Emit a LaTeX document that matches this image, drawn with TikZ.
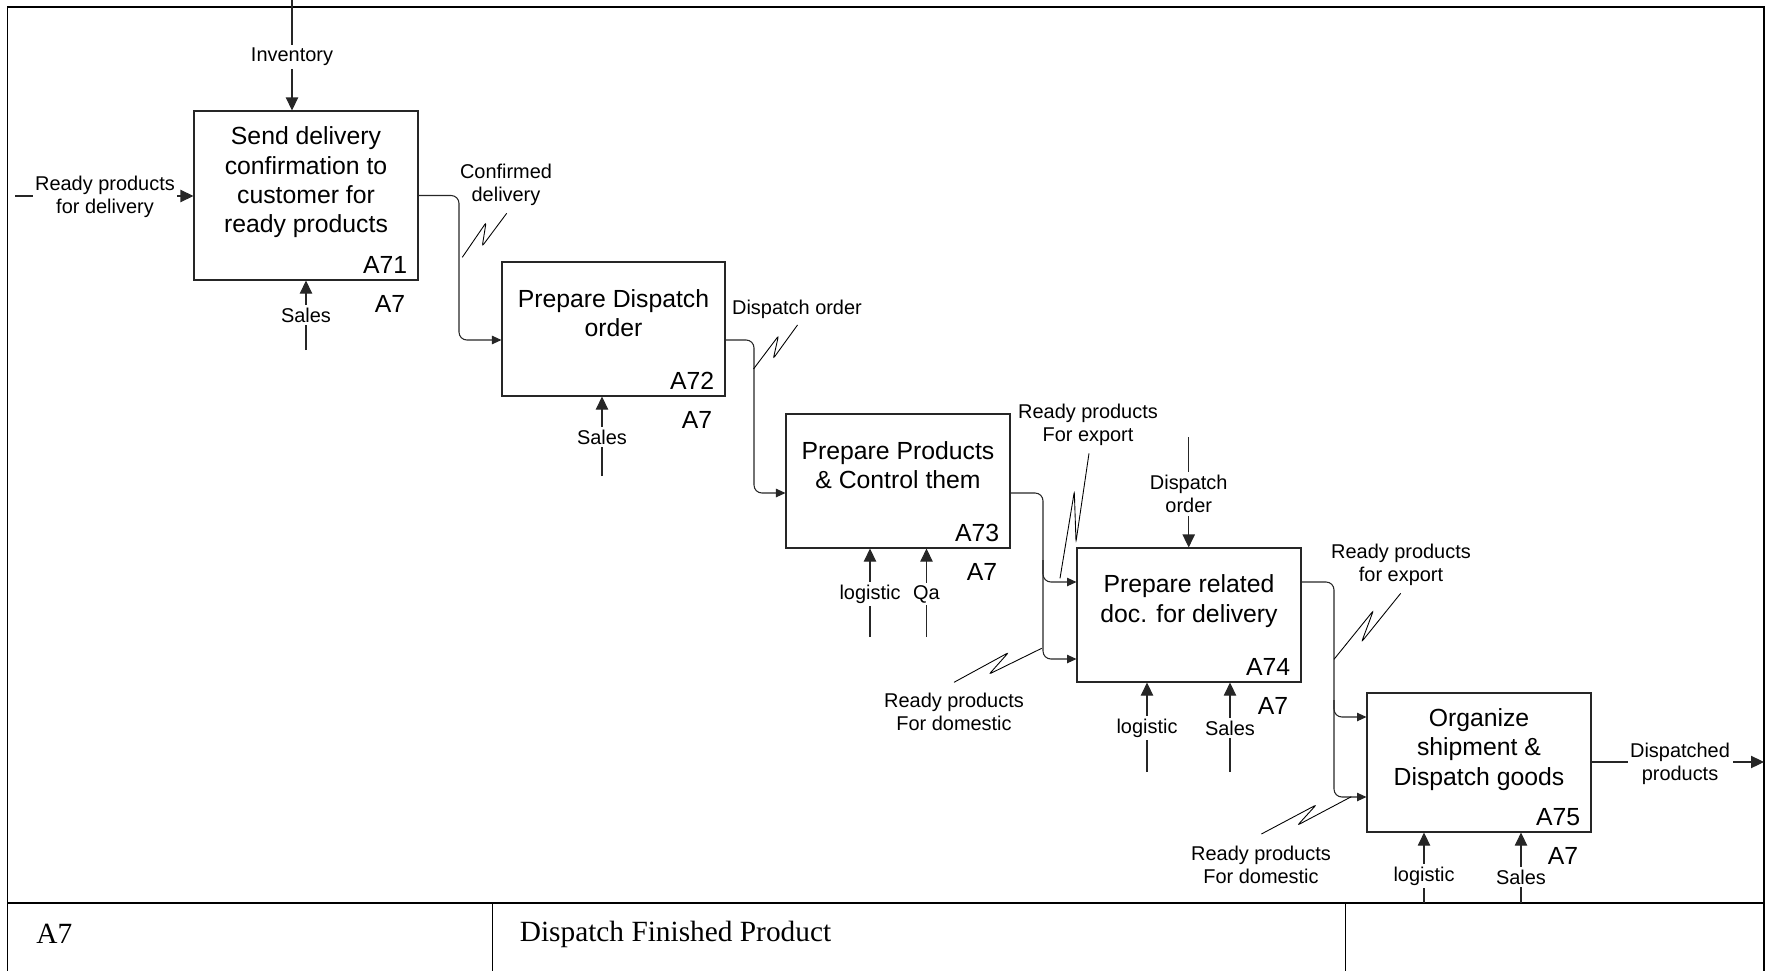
\documentclass[tikz,border=0pt]{standalone}
\usepackage{fontspec}
\setmainfont{Liberation Sans}
\newfontfamily\titlefont{Liberation Serif}
\usetikzlibrary{arrows.meta,fit,calc}
\begin{document}
\begin{tikzpicture}[x=0.02cm,y=-0.02cm,
  box/.style={draw=black!85,line width=0.6pt,inner sep=0pt},
  boxtext/.style={align=center,font=\fontsize{14.1}{16.7}\selectfont,inner sep=0pt},
  boxnum/.style={anchor=base east,font=\fontsize{14.1}{16.7}\selectfont,inner sep=0pt},
  lbl/.style={align=center,font=\fontsize{11.35}{13.3}\selectfont,fill=white,inner sep=1.5pt,yshift=-0.04cm},
  lblplain/.style={align=center,font=\fontsize{11.35}{13.3}\selectfont,inner sep=1pt,yshift=-0.04cm},
  wire/.style={line width=0.6pt,draw=black!85},
  bigarrow/.style={wire,-{Triangle[length=7.4pt,width=7pt]}},
  flow/.style={wire,rounded corners=4.5pt,-{Triangle[length=5.4pt,width=4.8pt]}},
  squig/.style={line width=0.5pt,rounded corners=1.2pt},
  frame/.style={line width=1.1pt},
  foot/.style={anchor=west,inner sep=0pt,font=\titlefont\fontsize{16.7}{20}\selectfont}]

\useasboundingbox (0,0) rectangle (1767,970);

% drawing frame and title block
\draw[frame] (7.5,7) rectangle (1764,990);
\draw[line width=1.5pt] (7.5,903) -- (1764,903);
\draw[frame] (492.5,903) -- (492.5,990);
\draw[frame] (1345.5,903) -- (1345.5,990);
\node[foot] (fnum) at (36,934) {A7};
\node[foot] (ftitle) at (519.5,934) {Dispatch Finished Product};

% activity boxes
\node[box,fit={(194,111) (418,280)}] (a71) {};
\node[box,fit={(502,262) (725,396)}] (a72) {};
\node[box,fit={(786,414) (1010,548)}] (a73) {};
\node[box,fit={(1077,548) (1301,682)}] (a74) {};
\node[box,fit={(1367,693) (1591,832)}] (a75) {};

\node[boxtext] (t71) at ($(a71.center)+(0,-13)$) {Send delivery\\confirmation to\\customer for\\ready products};
\node[boxtext] (t72) at ($(a72.center)+(0,-16)$) {Prepare Dispatch\\order};
\node[boxtext] (t73) at ($(a73.center)+(0,-16)$) {Prepare Products\\\& Control them};
\node[boxtext] (t74) at ($(a74.center)+(0,-14)$) {Prepare related\\doc. for delivery};
\node[boxtext] (t75) at ($(a75.center)+(0,-13)$) {Organize\\shipment \&\\Dispatch goods};

\foreach \b/\n in {a71/A71,a72/A72,a73/A73,a74/A74,a75/A75}{
  \node[boxnum] (\b num) at ($(\b.south east)+(-11,-7)$) {\n};
  \node[boxnum] (\b par) at ($(\b.south east)+(-13,32)$) {A7};
}

% free ends of boundary arrows
\coordinate (inL) at (15,196);
\coordinate (invS) at (292,0);
\coordinate (m1) at (306,350);
\coordinate (m2) at (602,476);
\coordinate (m3a) at (870,637);
\coordinate (m3b) at (926.5,637);
\coordinate (c4) at (1188.7,437);
\coordinate (m4a) at (1147,772);
\coordinate (m4b) at (1230,772);
\coordinate (m5a) at (1424,903);
\coordinate (m5b) at (1521,903);
\coordinate (outE) at (1764,762);

% inputs, controls, mechanisms
\draw[bigarrow] (inL) -- (inL -| a71.west);
\draw[bigarrow] (invS) -- (invS |- a71.north);
\draw[bigarrow] (m1) -- (m1 |- a71.south);
\draw[bigarrow] (m2) -- (m2 |- a72.south);
\draw[bigarrow] (m3a) -- (m3a |- a73.south);
\draw[bigarrow] (m3b) -- (m3b |- a73.south);
\draw[bigarrow] (c4) -- (c4 |- a74.north);
\draw[bigarrow] (m4a) -- (m4a |- a74.south);
\draw[bigarrow] (m4b) -- (m4b |- a74.south);
\draw[bigarrow] (m5a) -- (m5a |- a75.south);
\draw[bigarrow] (m5b) -- (m5b |- a75.south);
\draw[bigarrow] (a75.east |- 0,762) -- (outE);

% flows between activities
\draw[flow] (a71.east) -- (459,195.5) -- (459,340) -- (a72.west |- 0,340);
\draw[flow] (a72.east |- 0,340) -- (754,340) -- (754,493) -- (a73.west |- 0,493);
\draw[flow] (a73.east |- 0,493) -- (1043,493) -- (1043,582) -- (a74.west |- 0,582);
\draw[flow] (1043,560) -- (1043,659) -- (a74.west |- 0,659);
\draw[flow] (a74.east |- 0,582) -- (1334,582) -- (1334,717) -- (a75.west |- 0,717);
\draw[flow] (1334,700) -- (1334,797) -- (a75.west |- 0,797);

% labels breaking the arrows
\node[lbl] (lin) at (105,195) {Ready products\\for delivery};
\node[lbl] (linv) at (292,55) {Inventory};
\node[lbl] (lm1) at (306,313) {Sales};
\node[lbl] (lm2) at (602,435) {Sales};
\node[lbl] (lm3a) at (870,592) {logistic};
\node[lbl] (lm3b) at (926.5,592) {Qa};
\node[lbl] (lc4) at (1188.7,492) {Dispatch\\order};
\node[lbl] (lm4a) at (1147,726) {logistic};
\node[lbl] (lm4b) at (1230,726) {Sales};
\node[lbl] (lm5a) at (1424,874) {logistic};
\node[lbl] (lm5b) at (1521,875) {Sales};
\node[lbl] (lout) at (1680,762) {Dispatched\\products};

% flow labels tied by squiggles
\node[lblplain] (lcd) at (506,183) {Confirmed\\delivery};
\draw[squig] (462.3,257.3) -- (486,222.7) -- (482.3,246) -- (506.7,213.3);
\node[lblplain] (ldo) at (797,307) {Dispatch order};
\draw[squig] (753.5,369) -- (778.4,336) -- (773.4,358.3) -- (797.5,325);
\node[lblplain] (lex1) at (1088,423) {Ready products\\For export};
\draw[squig] (1060,578.3) -- (1074.3,491.7) -- (1076,541.7) -- (1089,453.3);
\node[lblplain] (ldm1) at (954,710) {Ready products\\For domestic};
\draw[squig] (954,682.3) -- (1008.3,652.7) -- (989.3,674) -- (1041.7,648.3);
\node[lblplain] (lex2) at (1401,563) {Ready products\\for export};
\draw[squig] (1334,659.3) -- (1373.3,610.7) -- (1361.7,641.7) -- (1400.7,593.3);
\node[lblplain] (ldm2) at (1261,863) {Ready products\\For domestic};
\draw[squig] (1261.4,834) -- (1316,805) -- (1297.8,825) -- (1351.3,796.7);

\end{tikzpicture}
\end{document}
